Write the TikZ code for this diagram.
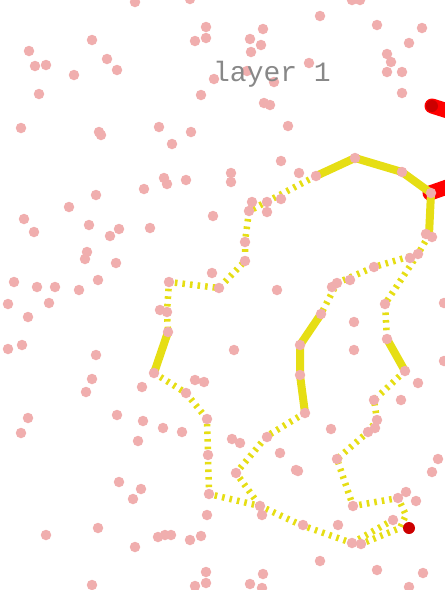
\documentclass[tikz,border=0pt]{standalone}
\usepackage{fontspec}
\newfontfamily\labelmono{Liberation Mono}
\definecolor{dotpink}{RGB}{240,174,174}
\definecolor{pathyellow}{RGB}{230,222,20}
\definecolor{darkdot}{RGB}{204,0,0}
\definecolor{labelgray}{RGB}{136,136,136}
\begin{document}
\begin{tikzpicture}[x=1pt,y=-1pt,
  solidseg/.style={draw=pathyellow, line width=8pt, line join=round, line cap=round},
  dashseg/.style={draw=pathyellow, line width=6.5pt, dash pattern=on 2.6pt off 5pt, line join=round},
  redseg/.style={draw=red, line width=15pt, line cap=round},
  pinkdot/.style={circle, fill=dotpink, inner sep=0pt, minimum size=10.5pt},
  reddot/.style={circle, fill=darkdot, inner sep=0pt, minimum size=12pt}]
\useasboundingbox (0,0) rectangle (445,590);
\clip (0,0) rectangle (445,590);
% red strokes
\coordinate (r1) at (432,106); \coordinate (r1e) at (470,118);
\coordinate (r2) at (430,193); \coordinate (r2e) at (470,179);
\draw[redseg] (r1) -- (r1e);
\draw[redseg] (r2) -- (r2e);
% path vertices
\coordinate (a1) at (316,176); \coordinate (a2) at (355,158); \coordinate (a3) at (402,172);
\coordinate (a4) at (431,193); \coordinate (a5) at (429,235);
\coordinate (b1) at (249,211); \coordinate (b2) at (245,242); \coordinate (b3) at (245,261);
\coordinate (b4) at (219,288); \coordinate (b5) at (169,282); \coordinate (b6) at (167,312);
\coordinate (b7) at (168,332); \coordinate (b8) at (154,373);
\coordinate (c1) at (186,393); \coordinate (c2) at (207,419); \coordinate (c3) at (208,455);
\coordinate (c4) at (209,494); \coordinate (c5) at (260,506); \coordinate (c6) at (301,525);
\coordinate (c7) at (352,543);
\coordinate (d1) at (418,254); \coordinate (d2) at (374,267); \coordinate (d3) at (337,283);
\coordinate (d4) at (321,314); \coordinate (d5) at (300,345); \coordinate (d6) at (300,375);
\coordinate (d7) at (305,413);
\coordinate (e1) at (267,436); \coordinate (e2) at (236,473);
\coordinate (f1) at (385,304); \coordinate (f2) at (387,339); \coordinate (f3) at (405,371);
\coordinate (g1) at (374,400); \coordinate (g2) at (377,420); \coordinate (g3) at (368,432);
\coordinate (g4) at (337,459); \coordinate (g5) at (353,506); \coordinate (g6) at (398,498);
\coordinate (g7) at (406,515); \coordinate (g8) at (400,528); \coordinate (g9) at (361,544);
\coordinate (h1) at (393,520);
% solid segments
\draw[solidseg] (a1) -- (a2) -- (a3) -- (a4) -- (a5);
\draw[solidseg] (b7) -- (b8);
\draw[solidseg] (d4) -- (d5) -- (d6) -- (d7);
\draw[solidseg] (f2) -- (f3);
% dashed segments
\draw[dashseg] (a1) -- (b1) -- (b2) -- (b3) -- (b4) -- (b5) -- (b6) -- (b7);
\draw[dashseg] (b8) -- (c1) -- (c2) -- (c3) -- (c4) -- (c5) -- (c6) -- (c7);
\draw[dashseg] (a5) -- (d1) -- (d2) -- (d3) -- (d4);
\draw[dashseg] (d7) -- (e1) -- (e2) -- (c5);
\draw[dashseg] (d1) -- (f1) -- (f2);
\draw[dashseg] (f3) -- (g1) -- (g2) -- (g3) -- (g4) -- (g5) -- (g6) -- (g7) -- (g8) -- (g9);
\draw[dashseg] (c7) -- (h1);
% dots
\foreach \x/\y [count=\i] in {135/2,92/40,29/51,35/66,46/65,107/59,117/70,74/75,39/94,21/128,99/132,101/135,
190/-1,206/27,206/38,195/41,263/29,250/39,261/45,251/52,247/71,
214/79,274/82,201/95,264/103,270/105,159/127,191/132,172/144,288/126,
352/0,360/0,320/16,377/25,422/28,409/43,387/54,391/62,387/72,402/72,309/63,402/93,
144/189,96/195,69/207,24/219,34/232,89/225,119/229,110/236,87/252,85/259,116/263,150/228,14/282,37/287,55/287,98/280,79/290,49/303,8/304,
28/317,8/349,22/345,96/355,92/379,86/392,142/387,28/418,21/433,117/415,143/421,138/441,
164/178,167/184,186/180,231/173,231/182,281/161,299/173,213/216,252/202,249/211,267/202,267/212,281/199,245/242,245/261,212/273,169/282,219/288,277/290,
316/176,355/158,402/172,431/193,426/234,432/237,418/254,410/258,374/267,350/280,337/283,332/287,
160/310,167/312,168/332,234/350,154/373,195/380,204/382,186/393,207/419,163/428,182/432,232/439,240/443,280/453,
385/304,444/303,354/322,354/350,321/314,300/345,300/375,305/413,387/339,405/371,418/383,374/400,401/400,377/420,375/428,368/432,331/429,444/361,
119/482,141/489,133/499,98/528,46/535,135/547,92/585,
208/455,209/494,260/506,262/515,236/473,267/437,296/470,207/515,158/537,165/535,171/535,190/540,201/536,206/572,206/583,195/586,263/574,250/584,262/588,
298/471,337/459,438/459,432/472,353/506,398/498,406/492,416/501,393/520,303/525,338/525,352/543,361/544,320/561,377/570,423/573,409/587}
  \node[pinkdot] (p\i) at (\x,\y) {};
\node[reddot] (rd1) at (r1) {};
\node[reddot] (rd2) at (409,528) {};
% label
\node[font=\labelmono\fontsize{28}{28}\selectfont, text=labelgray, anchor=base, inner sep=0pt] (label) at (272,81) {layer 1};
\end{tikzpicture}
\end{document}
